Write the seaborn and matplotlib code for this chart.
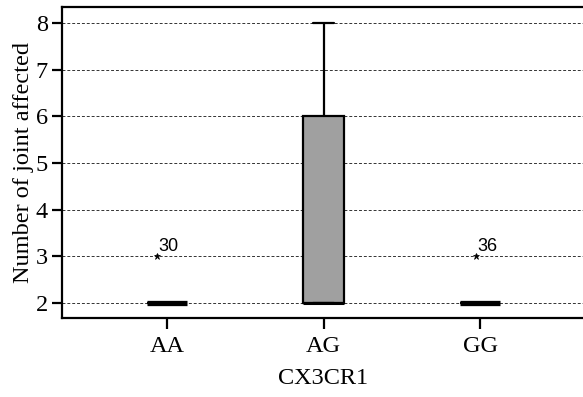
import matplotlib
matplotlib.use("Agg")
import matplotlib.pyplot as plt
import matplotlib.transforms as mtransforms
import seaborn as sns
import pandas as pd
import numpy as np

# ---- data ----
genotypes = ["AA", "AG", "GG"]
aa_values = [2] * 12 + [3]
ag_values = [2, 2, 2, 2, 2, 6, 6, 6, 8]
gg_values = [2] * 12 + [3]
outlier_genotypes = ["AA", "GG"]
outlier_values = [3, 3]
outlier_labels = ["30", "36"]
y_ticks = [2, 3, 4, 5, 6, 7, 8]

df = pd.DataFrame({
    "CX3CR1": ["AA"] * len(aa_values) + ["AG"] * len(ag_values) + ["GG"] * len(gg_values),
    "joints": aa_values + ag_values + gg_values,
})

sns.set_theme(style="white")
plt.rcParams["font.family"] = ["Liberation Serif", "DejaVu Serif"]

fig = plt.figure(figsize=(5.83, 3.97), dpi=100)
ax = fig.add_axes([62 / 583, 1 - 317.5 / 397, (585 - 62) / 583, (317.5 - 7.5) / 397])

sns.boxplot(
    data=df, x="CX3CR1", y="joints", order=genotypes,
    color="#a0a0a0", saturation=1, width=0.26, linewidth=1.6, linecolor="black",
    medianprops=dict(color="black", linewidth=3.8, solid_capstyle="butt"),
    flierprops=dict(marker="*", markersize=5, markerfacecolor="black",
                    markeredgecolor="black", markeredgewidth=0.5),
    ax=ax, zorder=3,
)

# style tweaks: thinner median on the filled AG box,
# outlier stars nudged left as in the source figure
flier_shift_px = {"AA": -10, "GG": -4}
for ln in ax.lines:
    xd = np.asarray(ln.get_xdata(), dtype=float)
    if len(xd) == 0:
        continue
    idx = int(round(float(np.mean(xd))))
    if ln.get_linewidth() > 3:
        if idx == 1:
            ln.set_linewidth(2.2)
        continue
    if ln.get_marker() == "*" and 0 <= idx < len(genotypes):
        dx = flier_shift_px.get(genotypes[idx], 0)
        ln.set_transform(ln.get_transform() + mtransforms.Affine2D().translate(dx, 0))

ax.set_xlim(-0.67, 2.67)
ax.set_ylim(1.687, 8.33)
ax.set_yticks(y_ticks)
ax.yaxis.grid(True, linestyle=(0, (3, 2)), color="#333333", linewidth=0.7)
ax.set_axisbelow(True)

for g, v, lab in zip(outlier_genotypes, outlier_values, outlier_labels):
    xi = genotypes.index(g)
    dx = flier_shift_px.get(g, 0) + 1
    t = ax.text(xi, v, lab, fontsize=13, family=["Liberation Sans", "DejaVu Sans"],
                ha="left", va="baseline", color="black")
    t.set_transform(ax.transData + mtransforms.Affine2D().translate(dx, 5))

for s in ax.spines.values():
    s.set_linewidth(1.6)
    s.set_color("black")

ax.tick_params(axis="y", direction="out", length=7, width=1.6, pad=3,
               labelsize=17.5, colors="black", left=True)
ax.tick_params(axis="x", direction="out", length=8, width=1.6, pad=5,
               labelsize=17.5, colors="black", bottom=True)
ax.set_xlabel("CX3CR1", fontsize=17.5, labelpad=8, color="black")
ax.set_ylabel("Number of joint affected", fontsize=17.5, labelpad=1.5, color="black")

fig.savefig("out.png", dpi=100)
